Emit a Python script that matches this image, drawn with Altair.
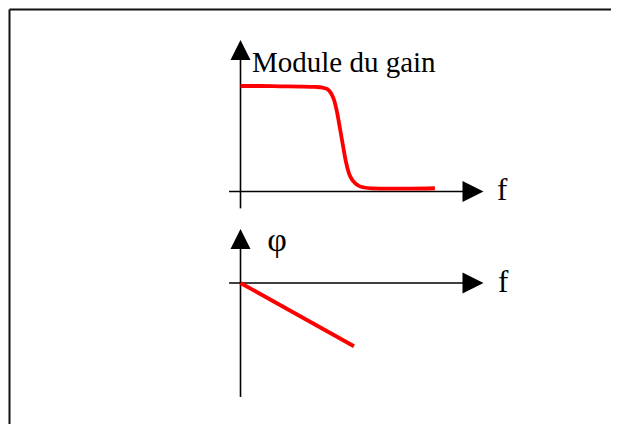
import altair as alt
import pandas as pd

# ---- data (diagram units: f along the horizontal axis, normalized gain / phase vertically)
gain_f = [0.0, 0.8, 1.63, 2.45, 3.07, 3.35, 3.56, 3.72, 3.85, 3.97, 4.09, 4.22, 4.34,
          4.47, 4.63, 4.84, 5.08, 5.41, 6.15, 6.98, 8.0]
gain_mod = [1.0, 1.0, 0.997, 0.995, 0.991, 0.986, 0.972, 0.934, 0.867, 0.754, 0.602, 0.431,
            0.28, 0.166, 0.1, 0.057, 0.038, 0.03, 0.028, 0.028, 0.031]

phase_f = [0.0, 4.67]
phase_val = [0.0, -0.6]

# axes extents (diagram units)
axis_f_start = -0.47
axis_f_tip = 10.0
top_vaxis = [-0.16, 1.436]
bot_vaxis = [-1.08, 0.512]

label_text = ["Module du gain", "f", "φ", "f"]
label_f = [0.47, 10.56, 1.1, 10.6]
label_y = [1.136, -0.08, 0.303, -0.085]
label_panel = ["gain", "gain", "phase", "phase"]
label_size = [29, 31, 34, 31]

# ---- layout
W, H = 603, 416
PHASE_OFFSET = -0.867          # vertical shift of the phase diagram
X0, XU, Y0, YU = 240.5, 24.3, 191.5, 105.5   # origin of the gain diagram on the page
XDOM = [(8 - X0) / XU, (8 + W - X0) / XU]
YDOM = [(Y0 - (8 + H)) / YU, (Y0 - 8) / YU]


def shift(panel, y):
    return y + (PHASE_OFFSET if panel == "phase" else 0.0)


xs = alt.Scale(domain=XDOM, nice=False, zero=False)
ys = alt.Scale(domain=YDOM, nice=False, zero=False)

gain_df = pd.DataFrame({"f": gain_f, "y": gain_mod})
phase_df = pd.DataFrame({"f": phase_f, "y": [shift("phase", v) for v in phase_val]})

haxis_df = pd.DataFrame({
    "f": [axis_f_start, axis_f_start],
    "f2": [axis_f_tip - 0.6, axis_f_tip - 0.6],
    "y": [0.0, shift("phase", 0.0)],
})
vaxis_df = pd.DataFrame({
    "f": [0.0, 0.0],
    "y": [top_vaxis[0], shift("phase", bot_vaxis[0])],
    "y2": [top_vaxis[1] - 0.1, shift("phase", bot_vaxis[1]) - 0.1],
})
rarrow_df = pd.DataFrame({"f": [axis_f_tip, axis_f_tip], "y": [0.0, shift("phase", 0.0)]})
uarrow_df = pd.DataFrame({"f": [0.0, 0.0], "y": [top_vaxis[1], shift("phase", bot_vaxis[1])]})
label_df = pd.DataFrame({
    "f": label_f,
    "y": [shift(p, v) for p, v in zip(label_panel, label_y)],
    "t": label_text,
    "s": label_size,
})

X = lambda fld: alt.X(f"{fld}:Q", scale=xs, axis=None)
Y = lambda fld: alt.Y(f"{fld}:Q", scale=ys, axis=None)

gain_line = alt.Chart(gain_df).mark_line(
    color="#ff0000", strokeWidth=3.8, interpolate="monotone", strokeCap="butt"
).encode(x=X("f"), y=Y("y"))

phase_line = alt.Chart(phase_df).mark_line(
    color="#ff0000", strokeWidth=3.8, strokeCap="butt"
).encode(x=X("f"), y=Y("y"))

haxis = alt.Chart(haxis_df).mark_rule(color="black", strokeWidth=1.6).encode(
    x=X("f"), x2="f2:Q", y=Y("y"))
vaxis = alt.Chart(vaxis_df).mark_rule(color="black", strokeWidth=1.6).encode(
    x=X("f"), y=Y("y"), y2="y2:Q")

rarrow = alt.Chart(rarrow_df).mark_point(
    shape="M0,0L-2,-1L-2,1Z", size=441, filled=True, color="black", opacity=1, strokeWidth=0
).encode(x=X("f"), y=Y("y"))
uarrow = alt.Chart(uarrow_df).mark_point(
    shape="M0,0L-1,2L1,2Z", size=400, filled=True, color="black", opacity=1, strokeWidth=0
).encode(x=X("f"), y=Y("y"))

labels = alt.Chart(label_df).mark_text(
    align="left", baseline="alphabetic", font="Liberation Serif", color="black"
).encode(x=X("f"), y=Y("y"), text="t:N", size=alt.Size("s:Q", scale=None, legend=None))

# page frame (top and left edges visible; the rest runs off the page)
frame_top = alt.Chart(pd.DataFrame({"a": [0]})).mark_rule(color="#111111", strokeWidth=2).encode(
    x=alt.value(1.5), x2=alt.value(W), y=alt.value(1.5))
frame_left = alt.Chart(pd.DataFrame({"a": [0]})).mark_rule(color="#111111", strokeWidth=2).encode(
    x=alt.value(1.5), y=alt.value(1.5), y2=alt.value(H))

chart = alt.layer(
    frame_top, frame_left, haxis, vaxis, gain_line, phase_line, rarrow, uarrow, labels
).properties(
    width=W, height=H, padding=0, autosize=alt.AutoSizeParams(type="none")
).configure_view(strokeWidth=0)

chart.save("out.html", embed_options={"renderer": "svg", "actions": False})
